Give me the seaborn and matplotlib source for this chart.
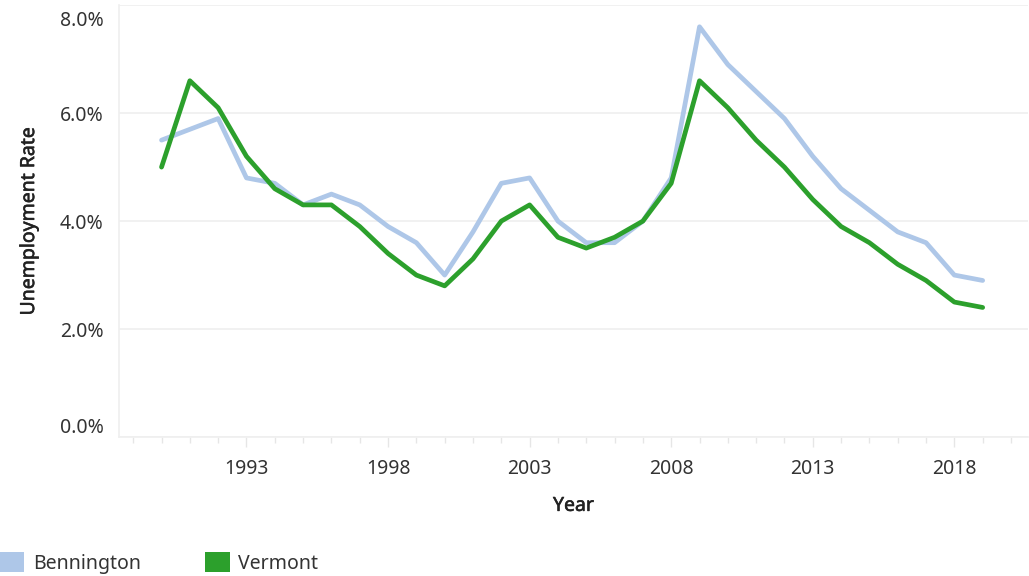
import matplotlib
matplotlib.use("Agg")
import matplotlib.pyplot as plt
import matplotlib.ticker as mticker
import matplotlib.transforms as mtransforms
import matplotlib.patheffects as pe
from matplotlib.patches import Patch
import seaborn as sns
import pandas as pd

years = list(range(1990, 2020))
bennington = [5.5, 5.7, 5.9, 4.8, 4.7, 4.3, 4.5, 4.3, 3.9, 3.6,
              3.0, 3.8, 4.7, 4.8, 4.0, 3.6, 3.6, 4.0, 4.8, 7.6,
              6.9, 6.4, 5.9, 5.2, 4.6, 4.2, 3.8, 3.6, 3.0, 2.9]
vermont = [5.0, 6.6, 6.1, 5.2, 4.6, 4.3, 4.3, 3.9, 3.4, 3.0,
           2.8, 3.3, 4.0, 4.3, 3.7, 3.5, 3.7, 4.0, 4.7, 6.6,
           6.1, 5.5, 5.0, 4.4, 3.9, 3.6, 3.2, 2.9, 2.5, 2.4]
series_names = ["Bennington", "Vermont"]
colors = {"Bennington": "#aec7e8", "Vermont": "#2ca02c"}
major_years = [1993, 1998, 2003, 2008, 2013, 2018]
y_ticks = [0, 2, 4, 6, 8]

df = pd.DataFrame({
    "Year": years * 2,
    "Rate": bennington + vermont,
    "Area": ["Bennington"] * len(years) + ["Vermont"] * len(years),
})

sns.set_theme(style="white")
plt.rcParams["font.family"] = ["Noto Sans", "DejaVu Sans"]

fig = plt.figure(figsize=(10.29, 5.76), dpi=100)
ax = fig.add_axes([0.1157, 0.2413, 0.8833, 0.7497])

sns.lineplot(data=df, x="Year", y="Rate", hue="Area", hue_order=series_names,
             palette=colors, linewidth=3.4, ax=ax, legend=False)

ax.set_xlim(1988.5, 2020.6)
ax.set_ylim(0, 8)
ax.xaxis.set_major_locator(mticker.FixedLocator(major_years))
ax.xaxis.set_minor_locator(mticker.FixedLocator(list(range(1989, 2021))))
ax.yaxis.set_major_locator(mticker.FixedLocator(y_ticks))
ax.yaxis.set_major_formatter(mticker.FuncFormatter(lambda v, p: f"{v:.1f}%"))

ax.grid(axis="y", color="#efefef", linewidth=1.2)
ax.grid(axis="x", visible=False)
for s in ["top", "right"]:
    ax.spines[s].set_visible(False)
for s in ["left", "bottom"]:
    ax.spines[s].set_color("#efefef")
    ax.spines[s].set_linewidth(1.2)

ax.tick_params(axis="x", which="major", length=7, color="#e6e6e6", width=1,
               labelsize=14, labelcolor="#333333", pad=9, bottom=True)
ax.tick_params(axis="x", which="minor", length=4, color="#e6e6e6", width=1, bottom=True)
ax.tick_params(axis="y", which="major", length=0, labelsize=14, labelcolor="#333333", pad=11)

# Tableau-style: shift outermost y labels inward
labels = ax.get_yticklabels()
labels[0].set_transform(labels[0].get_transform() +
                        mtransforms.ScaledTranslation(0, 12 / 100, fig.dpi_scale_trans))
labels[-1].set_transform(labels[-1].get_transform() +
                         mtransforms.ScaledTranslation(0, -13 / 100, fig.dpi_scale_trans))

thick = [pe.withStroke(linewidth=0.4, foreground="#222222")]
ax.set_xlabel("Year", fontsize=14, color="#222222", labelpad=12, path_effects=thick)
ax.set_ylabel("Unemployment Rate", fontsize=14, color="#222222", labelpad=15, path_effects=thick)

handles = [Patch(facecolor=colors[n], edgecolor="none", label=n) for n in series_names]
fig.legend(handles=handles, loc="lower left", bbox_to_anchor=(0.0, 0.004), ncol=2,
           frameon=False, fontsize=14, handlelength=1.25, handleheight=1.25,
           handletextpad=0.45, columnspacing=3.3, borderpad=0, borderaxespad=0,
           labelcolor="#333333")

fig.savefig("out.png", dpi=100)
